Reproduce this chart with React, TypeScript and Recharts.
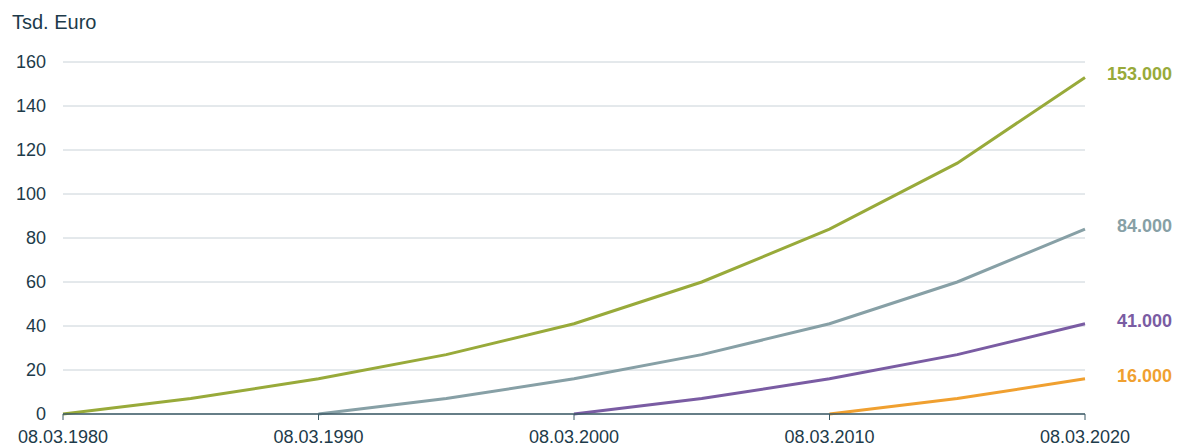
import React from "react";
import { LineChart, Line, XAxis, YAxis, CartesianGrid, LabelList } from "recharts";

const years = [1980, 1985, 1990, 1995, 2000, 2005, 2010, 2015, 2020];
const seriesGreen = [0, 7, 16, 27, 41, 60, 84, 114, 153];
const seriesGray = [null, null, 0, 7, 16, 27, 41, 60, 84];
const seriesPurple = [null, null, null, null, 0, 7, 16, 27, 41];
const seriesOrange = [null, null, null, null, null, null, 0, 7, 16];
const endLabels = ["153.000", "84.000", "41.000", "16.000"];
const xTicks = [1980, 1990, 2000, 2010, 2020];
const xTickLabels = ["08.03.1980", "08.03.1990", "08.03.2000", "08.03.2010", "08.03.2020"];
const yTicks = [0, 20, 40, 60, 80, 100, 120, 140, 160];

const data = years.map((y, i) => ({
  year: y,
  green: seriesGreen[i],
  gray: seriesGray[i],
  purple: seriesPurple[i],
  orange: seriesOrange[i],
}));

const FONT = "'Liberation Sans', Arial, sans-serif";
const TEXT = "#1d3b4a";

const series = [
  { key: "green", color: "#98aa3a", label: endLabels[0] },
  { key: "gray", color: "#87a0a6", label: endLabels[1] },
  { key: "purple", color: "#7a5ca3", label: endLabels[2] },
  { key: "orange", color: "#f0a030", label: endLabels[3] },
];

const makeEndLabel = (text: string, color: string) => (props: any) => {
  const { x, y, index } = props;
  if (index !== years.length - 1) return null;
  return (
    <text
      x={x + 87}
      y={y - 2}
      textAnchor="end"
      dominantBaseline="middle"
      fill={color}
      fontFamily={FONT}
      fontSize={18}
      fontWeight="bold"
    >
      {text}
    </text>
  );
};

export default function App() {
  return (
    <div style={{ position: "relative", width: 1166, height: 438 }}>
      <div
        style={{
          position: "absolute",
          left: 4,
          top: 2,
          fontFamily: FONT,
          fontSize: 20,
          color: TEXT,
          lineHeight: "24px",
        }}
      >
        Tsd. Euro
      </div>
      <LineChart
        width={1166}
        height={438}
        data={data}
        margin={{ top: 54, right: 89, bottom: 0, left: 0 }}
      >
        <CartesianGrid horizontal={true} vertical={false} stroke="#c9d2d8" strokeWidth={1} />
        <XAxis
          dataKey="year"
          type="number"
          domain={[1980, 2020]}
          ticks={xTicks}
          tickFormatter={(v: number) => xTickLabels[xTicks.indexOf(v)]}
          height={32}
          axisLine={{ stroke: "#3c5a66", strokeWidth: 1.5 }}
          tickLine={{ stroke: "#3c5a66" }}
          tickSize={6}
          tickMargin={10}
          tick={{ fill: TEXT, fontFamily: FONT, fontSize: 18 }}
          interval={0}
        />
        <YAxis
          type="number"
          domain={[0, 160]}
          ticks={yTicks}
          width={55}
          axisLine={false}
          tickLine={false}
          tickSize={6}
          tickMargin={11}
          tick={{ fill: TEXT, fontFamily: FONT, fontSize: 18 }}
          interval={0}
        />
        {series.map((s) => (
          <Line
            key={s.key}
            type="linear"
            dataKey={s.key}
            stroke={s.color}
            strokeWidth={3}
            dot={false}
            activeDot={false}
            isAnimationActive={false}
            connectNulls={false}
          >
            <LabelList dataKey={s.key} content={makeEndLabel(s.label, s.color)} />
          </Line>
        ))}
      </LineChart>
    </div>
  );
}
